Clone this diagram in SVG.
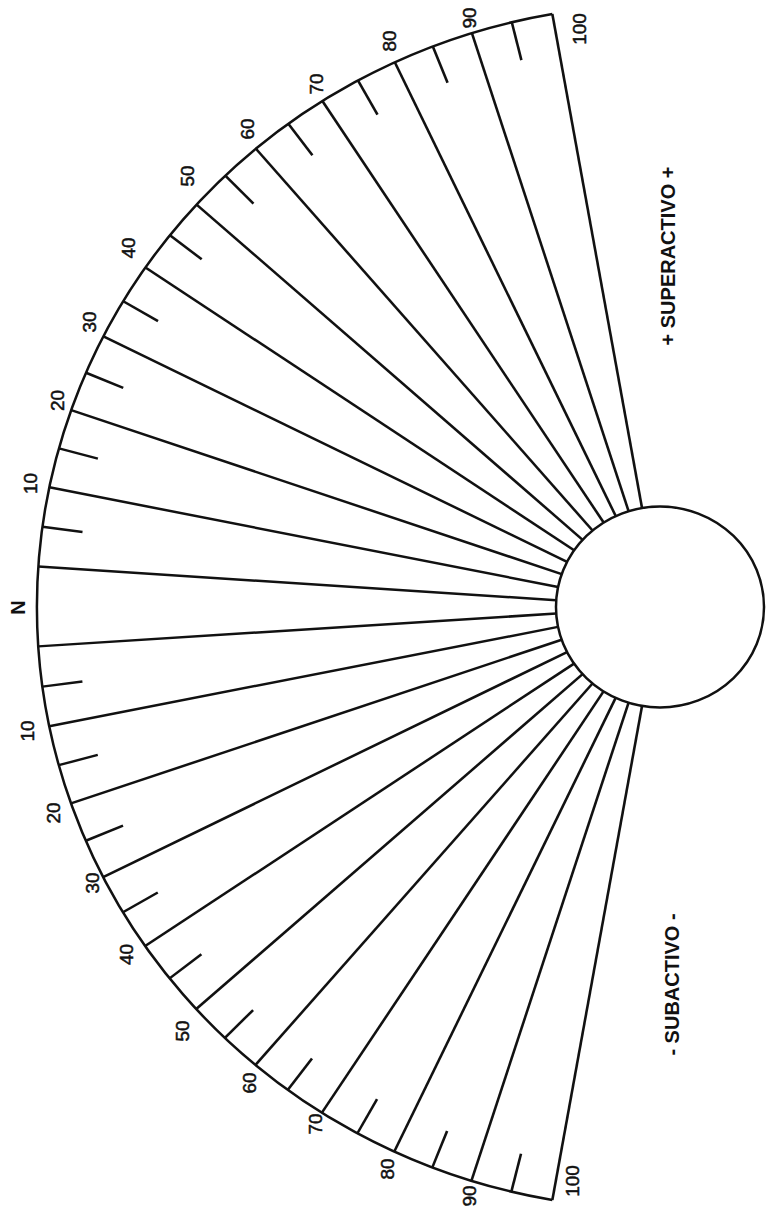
<svg xmlns="http://www.w3.org/2000/svg" xmlns:xlink="http://www.w3.org/1999/xlink" width="769" height="1217" viewBox="0 0 769 1217">
<style>
.ln{fill:none;stroke:#111;stroke-width:2.5;stroke-linecap:butt}
.ln *{vector-effect:non-scaling-stroke}
.num{font-family:"Liberation Sans",Arial,sans-serif;font-size:19px;fill:#111;stroke:#111;stroke-width:0.5;text-anchor:middle}
.lab{font-family:"Liberation Sans",Arial,sans-serif;font-size:20px;font-weight:bold;fill:#111;text-anchor:middle}
</style>
<defs>
<line id="major" x1="-602" y1="0" x2="-100.5" y2="0"/>
<line id="tick" x1="-602" y1="0" x2="-563" y2="0"/>
</defs>
<rect width="769" height="1217" fill="#fff"/>
<g id="dial" class="ln" transform="translate(660 607) scale(1.035 1)">
<path id="outer-arc" d="M -104.02 -592.95 A 602 602 0 0 0 -104.02 592.95"/>
<circle id="hub" cx="0" cy="0" r="100.5" fill="#fff"/>
<g id="major-lines">
<use xlink:href="#major" transform="rotate(3.85)"/>
<use xlink:href="#major" transform="rotate(11.47)"/>
<use xlink:href="#major" transform="rotate(19.09)"/>
<use xlink:href="#major" transform="rotate(26.71)"/>
<use xlink:href="#major" transform="rotate(34.33)"/>
<use xlink:href="#major" transform="rotate(41.95)"/>
<use xlink:href="#major" transform="rotate(49.57)"/>
<use xlink:href="#major" transform="rotate(57.19)"/>
<use xlink:href="#major" transform="rotate(64.81)"/>
<use xlink:href="#major" transform="rotate(72.43)"/>
<use xlink:href="#major" transform="rotate(80.05)"/>
<use xlink:href="#major" transform="rotate(-3.75)"/>
<use xlink:href="#major" transform="rotate(-11.42)"/>
<use xlink:href="#major" transform="rotate(-19.04)"/>
<use xlink:href="#major" transform="rotate(-26.66)"/>
<use xlink:href="#major" transform="rotate(-34.28)"/>
<use xlink:href="#major" transform="rotate(-41.9)"/>
<use xlink:href="#major" transform="rotate(-49.52)"/>
<use xlink:href="#major" transform="rotate(-57.14)"/>
<use xlink:href="#major" transform="rotate(-64.76)"/>
<use xlink:href="#major" transform="rotate(-72.38)"/>
<use xlink:href="#major" transform="rotate(-80.05)"/>
</g>
<g id="ticks">
<use xlink:href="#tick" transform="rotate(7.66)"/>
<use xlink:href="#tick" transform="rotate(15.28)"/>
<use xlink:href="#tick" transform="rotate(22.9)"/>
<use xlink:href="#tick" transform="rotate(30.52)"/>
<use xlink:href="#tick" transform="rotate(38.14)"/>
<use xlink:href="#tick" transform="rotate(45.76)"/>
<use xlink:href="#tick" transform="rotate(53.38)"/>
<use xlink:href="#tick" transform="rotate(61)"/>
<use xlink:href="#tick" transform="rotate(68.62)"/>
<use xlink:href="#tick" transform="rotate(76.24)"/>
<use xlink:href="#tick" transform="rotate(-7.6)"/>
<use xlink:href="#tick" transform="rotate(-15.23)"/>
<use xlink:href="#tick" transform="rotate(-22.85)"/>
<use xlink:href="#tick" transform="rotate(-30.47)"/>
<use xlink:href="#tick" transform="rotate(-38.09)"/>
<use xlink:href="#tick" transform="rotate(-45.71)"/>
<use xlink:href="#tick" transform="rotate(-53.33)"/>
<use xlink:href="#tick" transform="rotate(-60.95)"/>
<use xlink:href="#tick" transform="rotate(-68.57)"/>
<use xlink:href="#tick" transform="rotate(-76.2)"/>
</g>
</g>
<g id="labels-top" class="num">
<text transform="translate(36.5 483.5) rotate(-90)">10</text>
<text transform="translate(63.8 400.5) rotate(-90)">20</text>
<text transform="translate(95.8 322) rotate(-90)">30</text>
<text transform="translate(134.8 248) rotate(-90)">40</text>
<text transform="translate(193.8 176) rotate(-90)">50</text>
<text transform="translate(253.8 129) rotate(-90)">60</text>
<text transform="translate(322.8 84) rotate(-90)">70</text>
<text transform="translate(395.8 41) rotate(-90)">80</text>
<text transform="translate(475.8 18) rotate(-90)">90</text>
<text transform="translate(585.8 29) rotate(-90)">100</text>
</g>
<g id="labels-bottom" class="num">
<text transform="translate(34.3 731) rotate(-90)">10</text>
<text transform="translate(60.3 813) rotate(-90)">20</text>
<text transform="translate(98.8 883) rotate(-90)">30</text>
<text transform="translate(133.3 954.5) rotate(-90)">40</text>
<text transform="translate(188.8 1031) rotate(-90)">50</text>
<text transform="translate(255.8 1083) rotate(-90)">60</text>
<text transform="translate(321.8 1124) rotate(-90)">70</text>
<text transform="translate(393.8 1169) rotate(-90)">80</text>
<text transform="translate(475.8 1196) rotate(-90)">90</text>
<text transform="translate(579.3 1181) rotate(-90)">100</text>
</g>
<g id="label-n" class="lab">
<text transform="translate(24.5 607.5) rotate(-90)" style="font-size:20px">N</text>
</g>
<g id="label-super" class="lab">
<text transform="translate(675.2 256) rotate(-90)">+ SUPERACTIVO +</text>
</g>
<g id="label-sub" class="lab">
<text transform="translate(679.2 984.5) rotate(-90)">- SUBACTIVO -</text>
</g>
</svg>
